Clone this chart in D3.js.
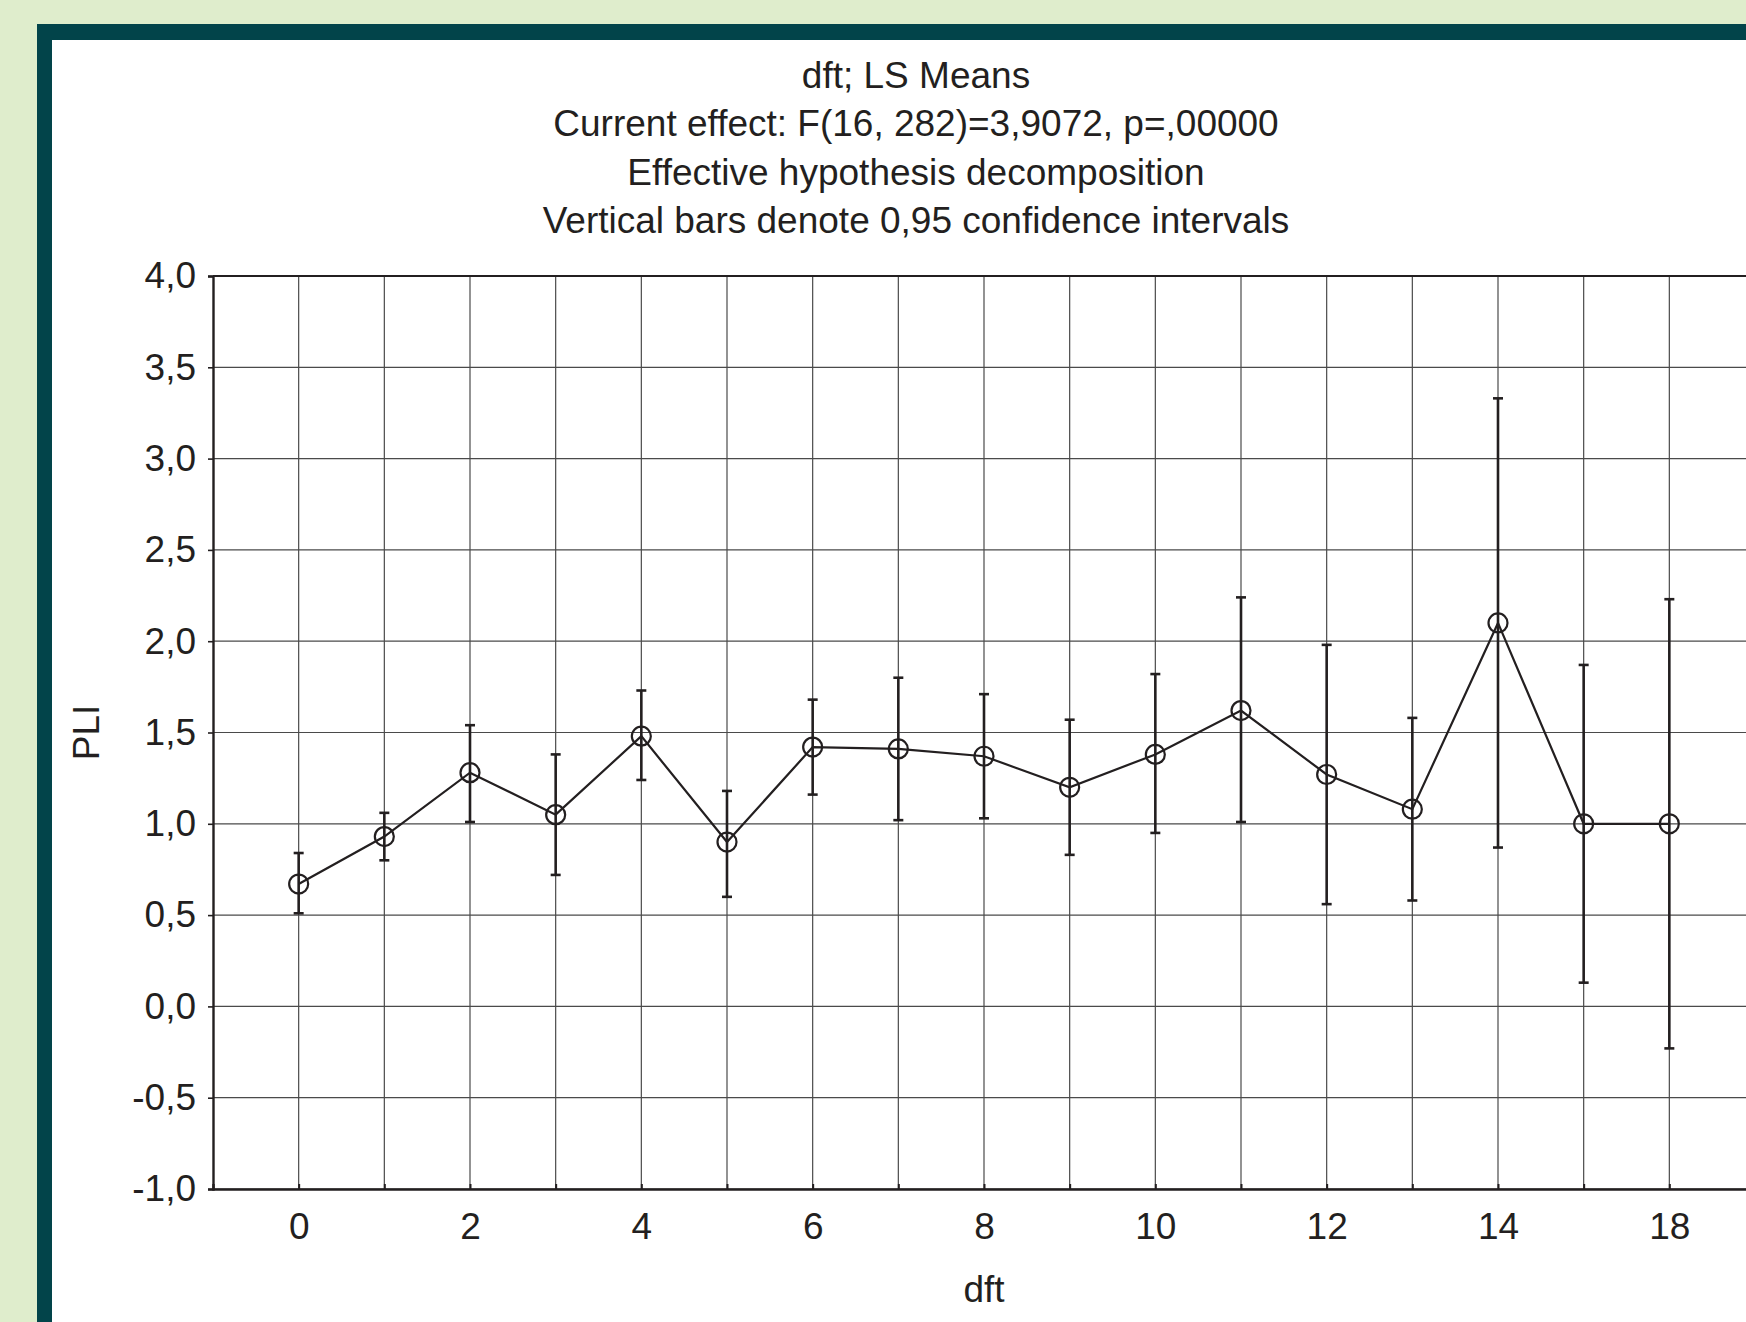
<!DOCTYPE html>
<html lang="en">
<head>
<meta charset="UTF-8">
<title>dft; LS Means</title>
<script src="https://cdn.jsdelivr.net/npm/d3@7"></script>
<style>
  html, body {margin: 0; padding: 0; background-color: #dfedcc;}
  text {font-family: "Liberation Sans", Arial, sans-serif; fill: #231f20;}
</style>
</head>
<body>
<div id="chart"></div>
<script>
// categories of dft (index 15 is not labelled on the axis)
var categories = ["0","1","2","3","4","5","6","7","8","9","10","11","12","13","14","15","18"];
var tickLabels = ["0","2","4","6","8","10","12","14","18"];
// LS means of PLI and 0,95 confidence limits
var means = [0.67,0.93,1.28,1.05,1.48,0.90,1.42,1.41,1.37,1.20,1.38,1.62,1.27,1.08,2.10,1.00,1.00];
var upper = [0.84,1.06,1.54,1.38,1.73,1.18,1.68,1.80,1.71,1.57,1.82,2.24,1.98,1.58,3.33,1.87,2.23];
var lower = [0.51,0.80,1.01,0.72,1.24,0.60,1.16,1.02,1.03,0.83,0.95,1.01,0.56,0.58,0.87,0.13,-0.23];
var yTicks = [-1,-0.5,0,0.5,1,1.5,2,2.5,3,3.5,4];
var titleLines = ["dft; LS Means",
    "Current effect: F(16, 282)=3,9072, p=,00000",
    "Effective hypothesis decomposition",
    "Vertical bars denote 0,95 confidence intervals"];

var w = 1746;
var h = 1322;
// plot box (right side runs past the picture edge, as in the original)
var pLeft = 213, pTop = 276, pRight = 1755, pBottom = 1189;

var svg = d3.select("#chart").append("svg")
    .attr("width", w)
    .attr("height", h);

// green page, dark teal frame, white panel
svg.append("rect").attr("x", 0).attr("y", 0).attr("width", w).attr("height", h).attr("fill", "#dfedcc");
svg.append("rect").attr("x", 37).attr("y", 24).attr("width", w).attr("height", h).attr("fill", "#02444a");
svg.append("rect").attr("x", 52).attr("y", 40).attr("width", w).attr("height", h).attr("fill", "#ffffff");

var x = d3.scalePoint().domain(categories).range([pLeft, pRight]).padding(1);
var y = d3.scaleLinear().domain([-1, 4]).range([pBottom, pTop]);

var fmt = function(d) { return d3.format(".1f")(d).replace(".", ",").replace("−", "-"); };

// title
svg.selectAll("text.title").data(titleLines).enter().append("text")
    .attr("class", "title")
    .attr("x", 916)
    .attr("y", function(d, i) { return 88 + i * 48.3; })
    .attr("text-anchor", "middle")
    .attr("font-size", "37px")
    .text(function(d) { return d; });

// grid
svg.selectAll("line.vgrid").data(categories).enter().append("line")
    .attr("class", "vgrid")
    .attr("x1", function(d) { return x(d); })
    .attr("x2", function(d) { return x(d); })
    .attr("y1", pTop).attr("y2", pBottom)
    .attr("stroke", "#4a4a4a").attr("stroke-width", 1.2);

svg.selectAll("line.hgrid").data(yTicks).enter().append("line")
    .attr("class", "hgrid")
    .attr("x1", pLeft).attr("x2", pRight)
    .attr("y1", function(d) { return y(d); })
    .attr("y2", function(d) { return y(d); })
    .attr("stroke", "#4a4a4a").attr("stroke-width", 1.2);

// axes
var yAxis = d3.axisLeft(y).tickValues(yTicks).tickSize(5).tickPadding(12).tickFormat(fmt);
var gy = svg.append("g").attr("transform", "translate(" + pLeft + ",0)").call(yAxis);
gy.select(".domain").attr("stroke", "#231f20").attr("stroke-width", 2.4);
gy.selectAll(".tick line").attr("stroke", "#231f20").attr("stroke-width", 1.6);
gy.selectAll("text").attr("font-size", "37px").attr("font-family", "Liberation Sans, Arial, sans-serif").attr("fill", "#231f20");

var xAxis = d3.axisBottom(x).tickSize(-5).tickPadding(24)
    .tickFormat(function(d) { return tickLabels.indexOf(d) >= 0 ? d : ""; });
var gx = svg.append("g").attr("transform", "translate(0," + pBottom + ")").call(xAxis);
gx.select(".domain").attr("stroke", "#231f20").attr("stroke-width", 2.4);
gx.selectAll(".tick line").attr("stroke", "#231f20").attr("stroke-width", 2);
gx.selectAll("text").attr("font-size", "37px").attr("font-family", "Liberation Sans, Arial, sans-serif").attr("fill", "#231f20");

// top border of plot
svg.append("line").attr("x1", pLeft).attr("x2", pRight).attr("y1", pTop).attr("y2", pTop)
    .attr("stroke", "#231f20").attr("stroke-width", 2.2);

// axis titles
svg.append("text")
    .attr("x", (pLeft + pRight) / 2)
    .attr("y", 1302)
    .attr("text-anchor", "middle")
    .attr("font-size", "37px")
    .text("dft");

svg.append("text")
    .attr("transform", "translate(99," + y(1.5) + ") rotate(-90)")
    .attr("text-anchor", "middle")
    .attr("font-size", "37px")
    .text("PLI");

// confidence bars
var pts = categories.map(function(c, i) { return {c: c, m: means[i], lo: lower[i], hi: upper[i]}; });

svg.selectAll("line.err").data(pts).enter().append("line")
    .attr("class", "err")
    .attr("x1", function(d) { return x(d.c); })
    .attr("x2", function(d) { return x(d.c); })
    .attr("y1", function(d) { return y(d.lo); })
    .attr("y2", function(d) { return y(d.hi); })
    .attr("stroke", "#231f20").attr("stroke-width", 2.6);

svg.selectAll("line.capHi").data(pts).enter().append("line")
    .attr("class", "capHi")
    .attr("x1", function(d) { return x(d.c) - 5; })
    .attr("x2", function(d) { return x(d.c) + 5; })
    .attr("y1", function(d) { return y(d.hi); })
    .attr("y2", function(d) { return y(d.hi); })
    .attr("stroke", "#231f20").attr("stroke-width", 2.6);

svg.selectAll("line.capLo").data(pts).enter().append("line")
    .attr("class", "capLo")
    .attr("x1", function(d) { return x(d.c) - 5; })
    .attr("x2", function(d) { return x(d.c) + 5; })
    .attr("y1", function(d) { return y(d.lo); })
    .attr("y2", function(d) { return y(d.lo); })
    .attr("stroke", "#231f20").attr("stroke-width", 2.6);

// means line
var line = d3.line().x(function(d) { return x(d.c); }).y(function(d) { return y(d.m); });
svg.append("path").datum(pts)
    .attr("d", line)
    .attr("fill", "none")
    .attr("stroke", "#231f20")
    .attr("stroke-width", 2.2);

svg.selectAll("circle").data(pts).enter().append("circle")
    .attr("cx", function(d) { return x(d.c); })
    .attr("cy", function(d) { return y(d.m); })
    .attr("r", 9.5)
    .attr("fill", "none")
    .attr("stroke", "#231f20")
    .attr("stroke-width", 2.2);
</script>
</body>
</html>
